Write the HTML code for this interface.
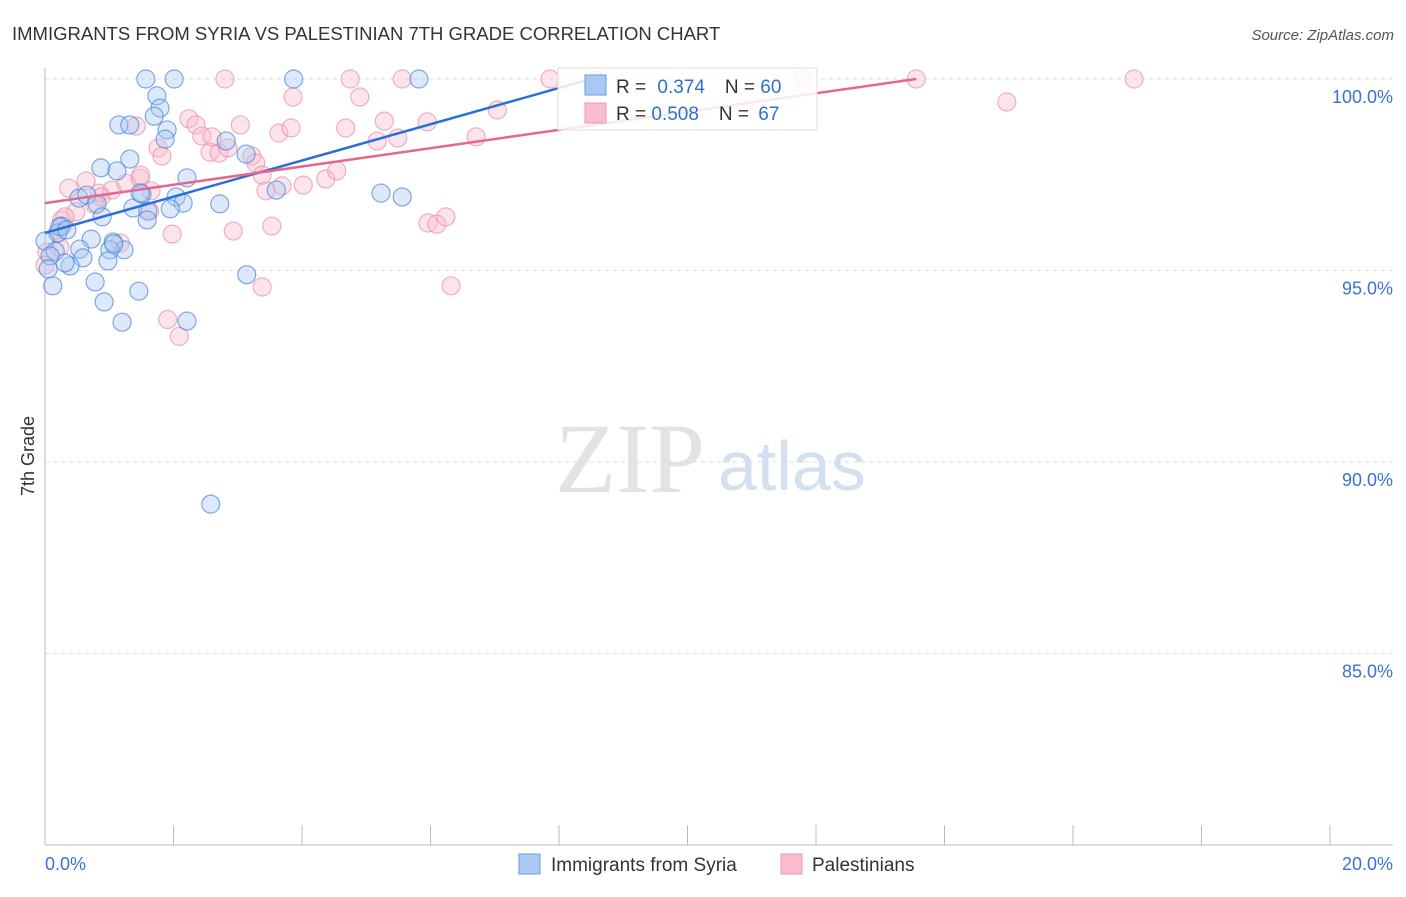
<!DOCTYPE html>
<html><head><meta charset="utf-8"><style>
body{margin:0;background:#fff;font-family:"Liberation Sans",sans-serif}
</style></head><body>
<svg width="1406" height="892" id="c" xmlns="http://www.w3.org/2000/svg" style="font-family:'Liberation Sans',sans-serif">
<text x="12" y="40" font-size="18.5" fill="#333">IMMIGRANTS FROM SYRIA VS PALESTINIAN 7TH GRADE CORRELATION CHART</text>
<text x="1394" y="40" font-size="15" fill="#555" font-style="italic" text-anchor="end">Source: ZipAtlas.com</text>
<text x="34" y="456" font-size="18" fill="#333" transform="rotate(-90 34 456)" text-anchor="middle">7th Grade</text>
<text x="555" y="492" font-size="100" fill="#e3e3e3" font-family="Liberation Serif">ZIP</text>
<text x="718" y="490" font-size="70" fill="#d3e0f2">atlas</text>
<g id="grid"></g><g id="pts"></g><g id="lines"></g>
<g>
<rect x="558" y="68" width="259" height="62" fill="#fff" fill-opacity="0.85" stroke="#ddd"/>
<rect x="585" y="75" width="21" height="20" fill="#a9c8f2" stroke="#6a9de0"/>
<rect x="585" y="103" width="21" height="20" fill="#f8bccd" stroke="#ec9ab3"/>
<text x="616" y="93" font-size="19" fill="#333">R = <tspan dx="6" fill="#2f6fd0">0.374</tspan><tspan dx="20">N = </tspan><tspan fill="#2f6fd0">60</tspan></text>
<text x="616" y="120" font-size="19" fill="#333">R = <tspan fill="#2f6fd0">0.508</tspan><tspan dx="20">N = </tspan><tspan dx="4" fill="#2f6fd0">67</tspan></text>
</g>
<g>
<rect x="519" y="854" width="21" height="20" fill="#a9c8f2" stroke="#6a9de0"/>
<text x="551" y="871" font-size="19" fill="#333">Immigrants from Syria</text>
<rect x="781" y="854" width="21" height="20" fill="#f8bccd" stroke="#ec9ab3"/>
<text x="812" y="871" font-size="19" fill="#333">Palestinians</text>
</g>
</svg>
<script>
const yTicks=[100,95,90,85];
const xTickLabels=["0.0%","20.0%"];
const blueX=[1.57,2.01,3.87,5.82,1.74,1.79,1.70,1.90,1.15,1.32,1.87,2.82,3.13,1.32,0.87,1.12,1.51,2.04,2.15,1.95,1.37,1.60,1.59,2.72,3.60,5.23,5.56,0.53,0.65,0.81,0.89,0.26,0.20,0.00,0.72,1.06,1.23,1.01,0.54,0.16,0.59,0.98,0.39,0.31,0.12,0.78,0.92,1.46,1.20,2.21,3.14,2.58,0.23,0.08,0.05,1.07,1.48,2.21,8.56,0.34];
const blueY=[100,100,100,100,99.56,99.24,99.03,98.67,98.8,98.8,98.43,98.38,98.04,97.91,97.68,97.6,97.0,96.92,96.76,96.61,96.63,96.55,96.32,96.74,97.1,97.02,96.92,96.89,96.97,96.74,96.4,96.16,95.98,95.77,95.82,95.74,95.54,95.54,95.56,95.5,95.33,95.25,95.12,95.2,94.6,94.7,94.18,94.46,93.65,93.68,94.89,88.9,96.14,95.38,95.04,95.69,97.02,97.42,99.97,96.06];
const pinkX=[2.80,4.75,5.56,7.86,11.80,13.56,16.95,3.86,4.90,14.97,2.24,2.35,3.04,5.28,5.95,7.04,1.42,1.76,1.82,2.44,2.57,2.71,2.85,2.60,3.22,3.28,3.64,3.83,4.68,5.17,5.49,6.71,0.37,0.64,0.84,1.04,1.26,1.48,1.65,1.49,4.02,4.37,4.54,3.69,3.44,3.38,0.48,0.26,0.20,0.23,0.03,0.00,0.87,0.78,1.17,1.98,2.93,3.53,5.96,6.10,6.24,6.32,3.38,1.91,2.09,1.63,0.31];
const pinkY=[100,100,100,100,100,100,100,99.53,99.53,99.4,98.96,98.8,98.8,98.9,98.88,99.19,98.77,98.2,97.99,98.51,98.09,98.07,98.2,98.49,97.99,97.81,98.59,98.72,98.72,98.38,98.46,98.49,97.15,97.34,97.02,97.1,97.28,97.41,97.08,97.49,97.23,97.39,97.6,97.21,97.08,97.49,96.53,96.32,95.98,95.61,95.48,95.14,96.92,96.71,95.72,95.95,96.03,96.16,96.24,96.21,96.4,94.6,94.57,93.72,93.28,96.55,96.4];
const blueLineX=[0,8.56],blueLineY=[95.98,100.03];
const pinkLineX=[0,13.56],pinkLineY=[96.76,100];
const NS="http://www.w3.org/2000/svg";
const X=v=>45+v/20*1285, Y=v=>79+(100-v)*38.3;
function mk(t,a,p){const e=document.createElementNS(NS,t);for(const k in a)e.setAttribute(k,a[k]);p.appendChild(e);return e;}
const g=document.getElementById('grid'),P=document.getElementById('pts'),L=document.getElementById('lines');
let ax=mk('line',{x1:45,y1:68,x2:45,y2:845,stroke:'#bbb'},g);


let bx=mk('line',{x1:45,y1:845,x2:1393,y2:845,stroke:'#bbb'},g);


yTicks.forEach(v=>{
 let l=mk('line',{x1:45,y1:Y(v),x2:1393,y2:Y(v),stroke:'#ddd','stroke-dasharray':'4,4'},g);
 
 
 let t=mk('text',{x:1393,y:Y(v)+24,'font-size':18,fill:'#3a72d0','text-anchor':'end'},g);
 t.textContent=v.toFixed(1)+'%';
 
 
});
for(let i=1;i<=10;i++){
 let l=mk('line',{x1:X(i*2),y1:825,x2:X(i*2),y2:845,stroke:'#bbb'},g);
 
 
}
[[0,'start',45],[20,'end',1393]].forEach((d,i)=>{
 let t=mk('text',{x:d[2],y:870,'font-size':18,fill:'#3a72d0','text-anchor':d[1]},g);
 t.textContent=xTickLabels[i];
 
 
});
function dots(xs,ys,fill,stroke,name){xs.forEach((x,i)=>{
 let c=mk('circle',{cx:X(x),cy:Y(ys[i]),r:9,fill:fill,'fill-opacity':0.4,stroke:stroke,'stroke-opacity':0.7,'stroke-width':1.2},P);
 
 
});}
dots(pinkX,pinkY,'#f8bccd','#ec8fab','palestinian-point');
dots(blueX,blueY,'#a9c8f2','#4a86d8','syria-point');
let bl=mk('line',{x1:X(blueLineX[0]),y1:Y(blueLineY[0]),x2:X(blueLineX[1]),y2:Y(blueLineY[1]),stroke:'#2a6fd8','stroke-width':2.5},L);


let pl=mk('line',{x1:X(pinkLineX[0]),y1:Y(pinkLineY[0]),x2:X(pinkLineX[1]),y2:Y(pinkLineY[1]),stroke:'#e5668f','stroke-width':2.5},L);


</script>
</body></html>
